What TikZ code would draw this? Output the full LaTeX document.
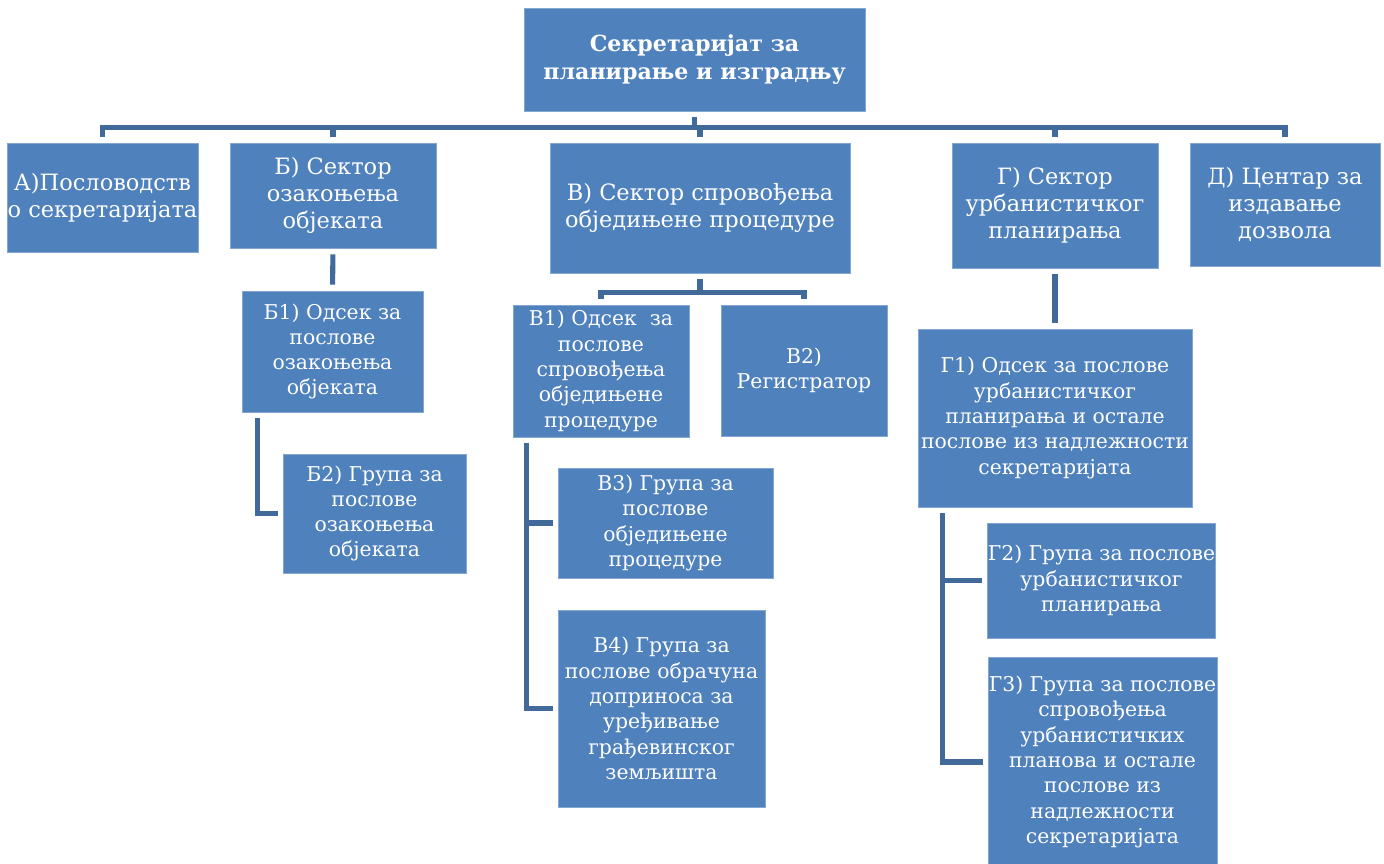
\documentclass[tikz,border=0pt]{standalone}
\usepackage{fontspec}
\setmainfont{DejaVu Serif}
\usetikzlibrary{calc}

\definecolor{unitblue}{RGB}{79,129,189}
\definecolor{linkblue}{RGB}{65,105,154}

\begin{document}
\begin{tikzpicture}[
    x=0.02cm, y=-0.02cm,
    unit/.style   = {rectangle, draw=unitblue!70!white, line width=0.5pt, fill=unitblue,
                     text=white, align=center, inner sep=0pt},
    head/.style   = {unit, font=\bfseries\fontsize{12.6pt}{15.9pt}\selectfont},
    sector/.style = {unit, font=\fontsize{12.8pt}{15.4pt}\selectfont},
    sub/.style    = {unit, font=\fontsize{11.6pt}{14.4pt}\selectfont},
    wh/.style 2 args = {minimum width=#1*0.02cm, minimum height=#2*0.02cm},
    link/.style   = {draw=linkblue, line width=2.9pt, shorten <=0.12cm, shorten >=0.12cm}
  ]
  \useasboundingbox (0,0) rectangle (1384,863);

  % --- secretariat ---
  \node[head, wh={341}{103}] (sec) at (694.5,59.5) {Секретаријат за\\планирање и изградњу};

  % --- sectors ---
  \node[sector, wh={191}{109}] (posl) at (102.5,197.5) {А)Пословодств\\о секретаријата};
  \node[sector, wh={206}{105}] (sekB) at (333,195.5)   {Б) Сектор\\озакоњења\\објеката};
  \node[sector, wh={300}{130}] (sekV) at (700,208)     {В) Сектор спровођења\\обједињене процедуре};
  \node[sector, wh={206}{125}] (sekG) at (1055,205.5)  {Г) Сектор\\урбанистичког\\планирања};
  \node[sector, wh={190}{123}] (cent) at (1285,204.5)  {Д) Центар за\\издавање\\дозвола};

  % --- units of sector B ---
  \node[sub, wh={181}{121}] (b1) at (332.5,351.5) {Б1) Одсек за\\послове\\озакоњења\\објеката};
  \node[sub, wh={183}{119}] (b2) at (374.5,513.5) {Б2) Група за\\послове\\озакоњења\\објеката};

  % --- units of sector V ---
  \node[sub, wh={176}{132}] (v1) at (601,371)     {В1) Одсек \ за\\послове\\спровођења\\обједињене\\процедуре};
  \node[sub, wh={166}{131}] (v2) at (804,370.5)   {В2)\\Регистратор};
  \node[sub, wh={215}{110}] (v3) at (665.5,523)   {В3) Група за\\послове\\обједињене\\процедуре};
  \node[sub, wh={207}{197}] (v4) at (661.5,708.5) {В4) Група за\\послове обрачуна\\доприноса за\\уређивање\\грађевинског\\земљишта};

  % --- units of sector G ---
  \node[sub, wh={274}{178}] (g1) at (1055,418)    {Г1) Одсек за послове\\урбанистичког\\планирања и остале\\послове из надлежности\\секретаријата};
  \node[sub, wh={227}{115}] (g2) at (1101.5,580.5) {Г2) Група за послове\\урбанистичког\\планирања};
  \node[sub, wh={229}{210}] (g3) at (1102.5,762)  {Г3) Група за послове\\спровођења\\урбанистичких\\планова и остале\\послове из\\надлежности\\секретаријата};

  % --- links ---
  \foreach \n in {posl, sekB, sekV, sekG, cent}
    \draw[link] (sec.south) -- ++(0,16) -| (\n.north);

  \draw[link] (sekB.south) -- (b1.north);
  \draw[link, shorten >=0.1cm] ($(b1.south west)+(16,0)$) |- (b2.west);

  \draw[link] (sekV.south) -- ++(0,19) -| (v1.north);
  \draw[link] (sekV.south) -- ++(0,19) -| (v2.north);
  \draw[link, shorten >=0.1cm] ($(v1.south west)+(14,0)$) |- (v3.west);
  \draw[link, shorten >=0.1cm] ($(v1.south west)+(14,0)$) |- (v4.west);

  \draw[link] (sekG.south) -- (g1.north);
  \draw[link, shorten >=0.1cm] ($(g1.south west)+(25,0)$) |- (g2.west);
  \draw[link, shorten >=0.1cm] ($(g1.south west)+(25,0)$) |- (g3.west);

\end{tikzpicture}
\end{document}
